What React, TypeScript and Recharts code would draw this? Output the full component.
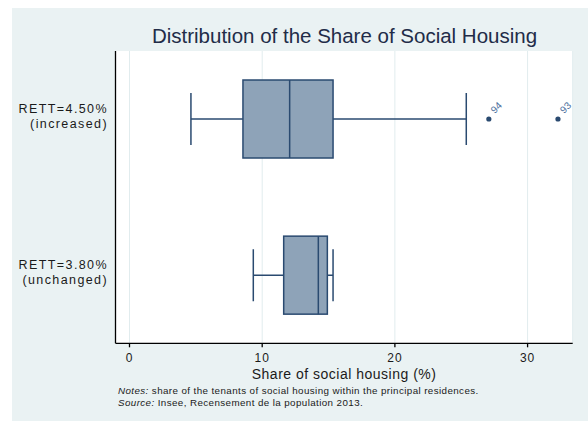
import React from 'react';
import { ComposedChart, Bar, XAxis, YAxis, CartesianGrid, Label } from 'recharts';

const groupLabels = ['RETT=4.50%', 'RETT=3.80%'];
const groupNotes = ['(increased)', '(unchanged)'];
const lowWhisker = [4.63, 9.33];
const lowerQuartile = [8.55, 11.62];
const medianValue = [12.07, 14.23];
const upperQuartile = [15.34, 14.91];
const highWhisker = [25.38, 15.34];
const outlierValues = [[27.08, 32.29], []];
const outlierLabels = [['94', '93'], []];
const xTicks = [0, 10, 20, 30];

const rows = groupLabels.map((label, i) => ({
  pos: i + 1,
  label,
  note: groupNotes[i],
  low: lowWhisker[i],
  q1: lowerQuartile[i],
  med: medianValue[i],
  q3: upperQuartile[i],
  high: highWhisker[i],
  outliers: outlierValues[i],
  outlierNames: outlierLabels[i],
}));

const NAVY = '#2a4a70';
const FILL = '#8ea3b8';
const INK = '#1a1a1a';

const BoxShape = (props: any) => {
  const { x, y, width, height, payload } = props;
  const p = payload;
  // linear scale between the two whisker ends, same as the axis scale
  const toX = (v: number) => x + ((v - p.low) / (p.high - p.low)) * width;
  const cy = y + height / 2;
  const capHalf = height / 3;
  const xq1 = toX(p.q1);
  const xq3 = toX(p.q3);
  const xmed = toX(p.med);
  return (
    <g>
      <line x1={x} y1={cy} x2={xq1} y2={cy} stroke={NAVY} strokeWidth={1.5} />
      <line x1={xq3} y1={cy} x2={x + width} y2={cy} stroke={NAVY} strokeWidth={1.5} />
      <line x1={x} y1={cy - capHalf} x2={x} y2={cy + capHalf} stroke={NAVY} strokeWidth={1.5} />
      <line x1={x + width} y1={cy - capHalf} x2={x + width} y2={cy + capHalf} stroke={NAVY} strokeWidth={1.5} />
      <rect x={xq1} y={y} width={xq3 - xq1} height={height} fill={FILL} stroke={NAVY} strokeWidth={1.5} />
      <line x1={xmed} y1={y} x2={xmed} y2={y + height} stroke={NAVY} strokeWidth={1.5} />
      {p.outliers.map((v: number, k: number) => {
        const ox = toX(v);
        return (
          <g key={k}>
            <circle cx={ox} cy={cy} r={2.6} fill={NAVY} />
            <text
              x={ox + 6}
              y={cy - 5}
              fontSize={10}
              fill="#4f72a0"
              transform={`rotate(-45 ${ox + 6} ${cy - 5})`}
            >
              {p.outlierNames[k]}
            </text>
          </g>
        );
      })}
    </g>
  );
};

const CategoryTick = (props: any) => {
  const { x, y, payload } = props;
  const row = rows[payload.value - 1];
  if (!row) return null;
  return (
    <g>
      <text x={x} y={y - 6} textAnchor="end" fontSize={12.5} fill={INK} letterSpacing={1.4}>
        {row.label}
      </text>
      <text x={x} y={y + 9} textAnchor="end" fontSize={12.5} fill={INK} letterSpacing={1.4}>
        {row.note}
      </text>
    </g>
  );
};

export default function App() {
  return (
    <div style={{ position: 'absolute', left: 0, top: 0, width: 588, height: 421, background: '#ffffff' }}>
      <div style={{ position: 'absolute', left: 12, top: 8, width: 576, height: 413, background: '#eaf2f3' }} />
      <svg
        width={588}
        height={421}
        style={{ position: 'absolute', left: 0, top: 0, fontFamily: 'Liberation Sans, Arial, sans-serif' }}
      >
        <text x={344.5} y={43} textAnchor="middle" fontSize={20.5} fill="#222c48">
          Distribution of the Share of Social Housing
        </text>
        <text x={118} y={394} fontSize={9.8} fill={INK} letterSpacing={0.4}>
          <tspan fontStyle="italic">Notes:</tspan> share of the tenants of social housing within the principal residences.
        </text>
        <text x={118} y={405.5} fontSize={9.8} fill={INK} letterSpacing={0.4}>
          <tspan fontStyle="italic">Source:</tspan> Insee, Recensement de la population 2013.
        </text>
      </svg>
      <div style={{ position: 'absolute', left: 0, top: 0, fontFamily: 'Liberation Sans, Arial, sans-serif' }}>
        <ComposedChart
          width={588}
          height={421}
          layout="vertical"
          data={rows}
          margin={{ top: 51, right: 15.3, bottom: 47.7, left: 0 }}
        >
          <CartesianGrid horizontal={false} stroke="#e1ecee" fill="#ffffff" />
          <XAxis
            type="number"
            domain={[-1.055, 33.4]}
            ticks={xTicks}
            allowDataOverflow
            interval={0}
            height={30}
            tickSize={4}
            tickMargin={6}
            axisLine={{ stroke: '#000', strokeWidth: 1.3 }}
            tickLine={{ stroke: '#000', strokeWidth: 1.3 }}
            tick={{ fontSize: 12, fill: INK, letterSpacing: 1 }}
          >
            <Label
              value="Share of social housing (%)"
              position="bottom"
              offset={-4}
              fontSize={14}
              fill={INK}
              letterSpacing={0.5}
            />
          </XAxis>
          <YAxis
            type="number"
            dataKey="pos"
            domain={[0.564, 2.436]}
            allowDataOverflow
            ticks={[1, 2]}
            interval={0}
            width={115.5}
            tickLine={false}
            tickSize={0}
            tickMargin={7.5}
            axisLine={{ stroke: '#000', strokeWidth: 1.3 }}
            tick={<CategoryTick />}
          />
          <Bar
            dataKey={(d: any) => [d.low, d.high]}
            barSize={78}
            shape={<BoxShape />}
            isAnimationActive={false}
          />
        </ComposedChart>
      </div>
    </div>
  );
}
